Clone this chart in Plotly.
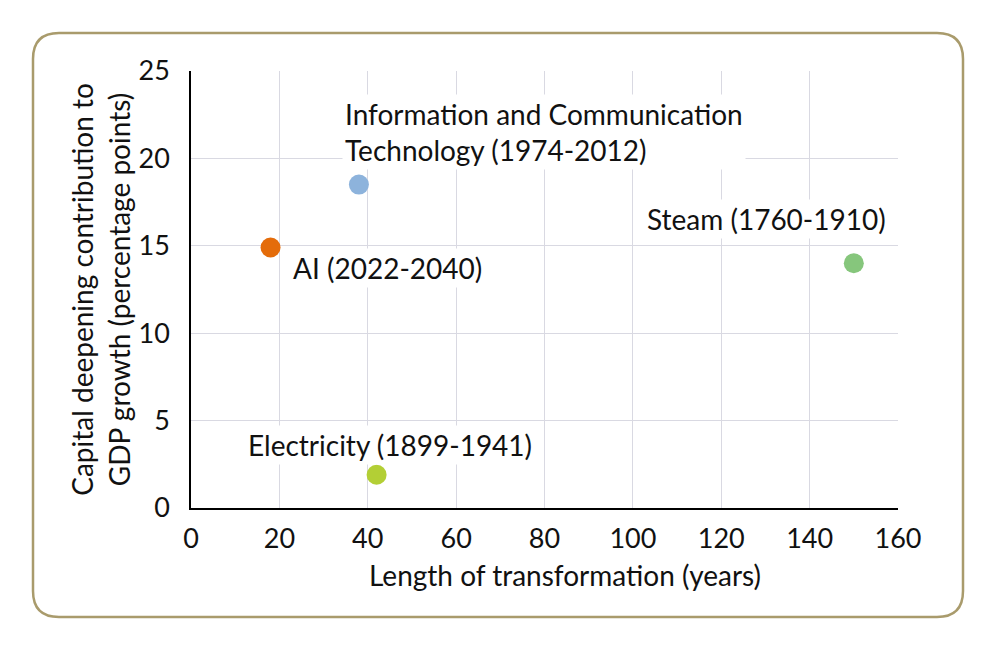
import plotly.graph_objects as go

# data
names = ["Information and Communication<br>Technology (1974-2012)", "AI (2022-2040)",
         "Steam (1760-1910)", "Electricity (1899-1941)"]
years = [38, 18, 150, 42]
contribution = [18.5, 14.9, 14.0, 1.9]
colors = ["#8db3dc", "#e46c0a", "#86c67c", "#b3cf35"]

# label offsets from each point, in pixels (box centre)
label_pos = [
    dict(xshift=185, yshift=53, align="left"),
    dict(xshift=117, yshift=-20, align="left"),
    dict(xshift=-87, yshift=44, align="left"),
    dict(xshift=13, yshift=30, align="center"),
]

W, H = 996, 648
# page is drawn 8px in from the window corner, so pull the margins in
L, T = 183, 63
PW, PH = 707, 437
R, B = W - L - PW, H - T - PH

fig = go.Figure()
fig.add_trace(go.Scatter(
    x=years, y=contribution, mode="markers",
    marker=dict(size=20, color=colors),
    hoverinfo="skip", showlegend=False,
))

for n, xv, yv, pos in zip(names, years, contribution, label_pos):
    fig.add_annotation(x=xv, y=yv, text=n, showarrow=False, bgcolor="white",
                       borderpad=2, xanchor="center", yanchor="middle",
                       font=dict(size=28, color="#111111"), **pos)

# rounded frame around the whole chart (pixel -> paper coords)
def px(x):
    return (x - L) / PW

def py(y):
    return (T + PH - y) / PH

x0, x1, y0, y1, r = 25, 955, 25, 609, 26
path = (
    f"M {px(x0 + r)},{py(y0)} L {px(x1 - r)},{py(y0)} "
    f"Q {px(x1)},{py(y0)} {px(x1)},{py(y0 + r)} L {px(x1)},{py(y1 - r)} "
    f"Q {px(x1)},{py(y1)} {px(x1 - r)},{py(y1)} L {px(x0 + r)},{py(y1)} "
    f"Q {px(x0)},{py(y1)} {px(x0)},{py(y1 - r)} L {px(x0)},{py(y0 + r)} "
    f"Q {px(x0)},{py(y0)} {px(x0 + r)},{py(y0)} Z"
)
fig.add_shape(type="path", path=path, xref="paper", yref="paper",
              line=dict(color="#a99b6c", width=2.5), layer="below")

# x axis title sits a little right of the plot centre in the original
fig.add_annotation(text="Length of transformation (years)", xref="paper", yref="paper",
                   x=px(557), y=py(567), xanchor="center", yanchor="middle",
                   showarrow=False, font=dict(size=28, color="#111111"))

fig.update_layout(
    width=W, height=H,
    margin=dict(l=L, r=R, t=T, b=B),
    paper_bgcolor="white", plot_bgcolor="white",
    font=dict(family="Lato", size=27, color="#111111"),
    xaxis=dict(
        range=[0, 160], dtick=20, showgrid=True, gridcolor="#d9d9e2", gridwidth=1.2,
        showline=True, linecolor="black", linewidth=1.5, zeroline=False,
        ticks="", ticklabelstandoff=6, tickfont=dict(size=27),
    ),
    yaxis=dict(
        range=[0, 25], dtick=5, showgrid=True, gridcolor="#d9d9e2", gridwidth=1.2,
        showline=True, linecolor="black", linewidth=1.5, zeroline=False,
        ticks="", ticklabelstandoff=14, tickfont=dict(size=27),
        title=dict(text="Capital deepening contribution to<br>GDP growth (percentage points)",
                   standoff=0, font=dict(size=28)),
    ),
)

fig.write_html("out.html")
